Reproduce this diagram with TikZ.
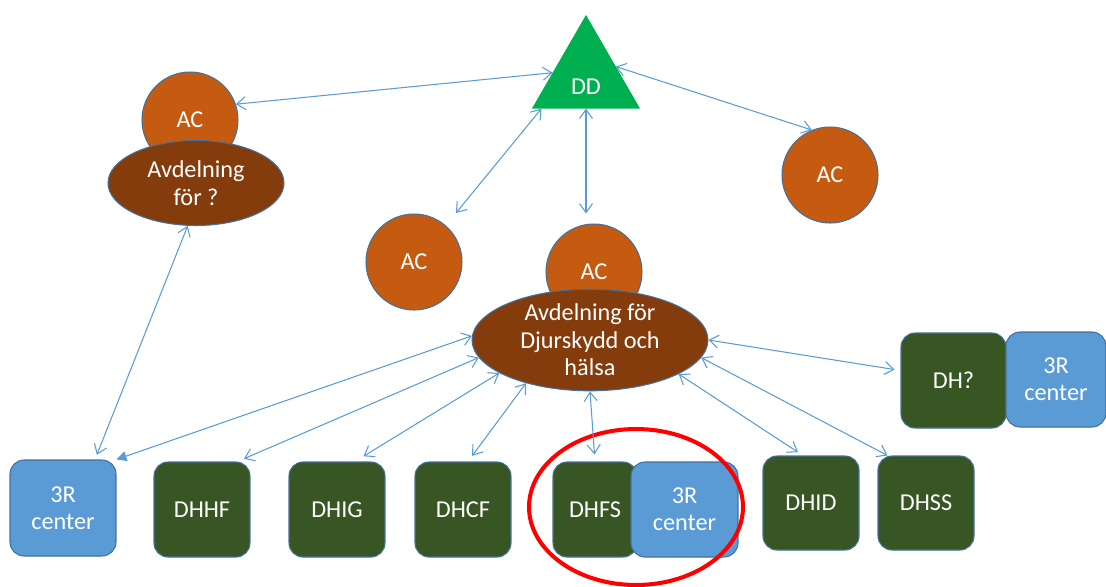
\documentclass[tikz,border=0pt]{standalone}
\usepackage{fontspec}
\setmainfont{Carlito}
\usepackage{xcolor}
\usepackage{tikz}
\usetikzlibrary{calc}
\usetikzlibrary{shapes,arrows.meta,positioning,calc}
\usetikzlibrary{shapes.geometric}

\definecolor{acorange}{HTML}{C55A11}
\definecolor{avdbrown}{HTML}{843C0C}
\definecolor{ddgreen}{HTML}{00B050}
\definecolor{dhgreen}{HTML}{375623}
\definecolor{rblue}{HTML}{5B9BD5}
\definecolor{rim}{HTML}{41719C}

\tikzset{
	acball/.style={circle,fill=acorange,draw=rim,line width=0.6pt,minimum size=1.92cm,inner sep=0pt,text=white},
	avdoval/.style={ellipse,fill=avdbrown,draw=rim,line width=0.6pt,inner sep=0pt,align=center,text=white},
	dhbox/.style={rectangle,rounded corners=0.28cm,fill=dhgreen,draw=rim,line width=0.6pt,minimum width=1.92cm,minimum height=1.9cm,inner sep=0pt,align=center,text=white},
	rbox/.style={dhbox,fill=rblue},
	link/.style={draw=rblue,line width=0.6pt,{Straight Barb[length=1.8mm,width=2.6mm]}-{Straight Barb[length=1.8mm,width=2.6mm]}},
}

\begin{document}
\begin{tikzpicture}[x=0.02cm,y=-0.02cm,font=\fontsize{13.8}{15.6}\selectfont]
	\useasboundingbox (0,0) rectangle (1106,586);
	\node[regular polygon,regular polygon sides=3,minimum size=2.5cm,inner sep=0pt,outer sep=0pt,fill=ddgreen,label={[text=white,yshift=-0.18cm]center:DD}] (dd) at (586,77.4) {};
	\node[acball] (ac1) at (190,120) {AC};
	\node[avdoval,minimum width=3.52cm,minimum height=1.7cm] (avd1) at (196,183) {Avdelning\\för ?};
	\node[acball] (ac2) at (414,262) {AC};
	\node[acball] (ac3) at (594,272) {AC};
	\node[avdoval,minimum width=4.72cm,minimum height=1.68cm] (avd2) at (590,340) {Avdelning för\\Djurskydd och\\hälsa};
	\node[acball] (ac4) at (830,175) {AC};
	\node[dhbox,minimum width=2.1cm] (dhq) at (953.5,380.5) {DH?};
	\node[rbox,minimum width=2.0cm] (tc1) at (1056,379.5) {3R\\center};
	\node[rbox,minimum width=2.12cm,minimum height=1.92cm] (tc0) at (63,508) {3R\\center};
	\node[dhbox] (dhhf) at (202,509.5) {DHHF};
	\node[dhbox] (dhig) at (337,509.5) {DHIG};
	\node[dhbox] (dhcf) at (463,509.5) {DHCF};
	\node[dhbox,minimum width=1.68cm] (dhfs) at (595,509.5) {DHFS};
	\node[rbox,minimum width=2.14cm] (tc2) at (684.5,509.5) {3R\\center};
	\node[dhbox,minimum height=1.88cm] (dhid) at (811,503) {DHID};
	\node[dhbox,minimum height=1.88cm] (dhss) at (926,503) {DHSS};
	\node[ellipse,draw=red,line width=2.3pt,minimum width=4.28cm,minimum height=3.12cm] (ring) at (636,507) {};
	\draw[link] (ac1.19) -- (dd.172);
	\draw[link] (dd.20) -- (ac4.112);
	\draw[link,shorten >=0.32cm] (dd.215) -- (ac2.49);
	\draw[link,shorten >=0.2cm] (dd.270) -- (dd.270 |- ac3.north);
	\draw[link,shorten >=0.1cm] (avd1.259) -- ($(tc0.north)+(32,0)$);
	\draw[draw=rblue,line width=0.6pt,{Straight Barb[length=1.8mm,width=2.6mm]}-{Triangle[length=2mm,width=2mm]}] (avd2.178) -- (tc0.north east);
	\draw[link,shorten >=0.14cm] (avd2.189) -- ($(dhhf.north east)+(-13,0)$);
	\draw[link,shorten >=0.2cm] (avd2.200) -- ($(dhig.north)+(18,0)$);
	\draw[link,shorten >=0.14cm] (avd2.214) -- ($(dhcf.north)+(5,0)$);
	\draw[link,shorten >=0.14cm] (avd2.south) -- (dhfs.north);
	\draw[link,shorten >=0.12cm] (avd2.339) -- ($(dhid.north)+(-8,0)$);
	\draw[link] (avd2.351) -- ($(dhss.north west)+(10,0)$);
	\draw[link,shorten >=0.12cm] (avd2.east) -- ($(dhq.west)+(0,-10)$);
\end{tikzpicture}
\end{document}
